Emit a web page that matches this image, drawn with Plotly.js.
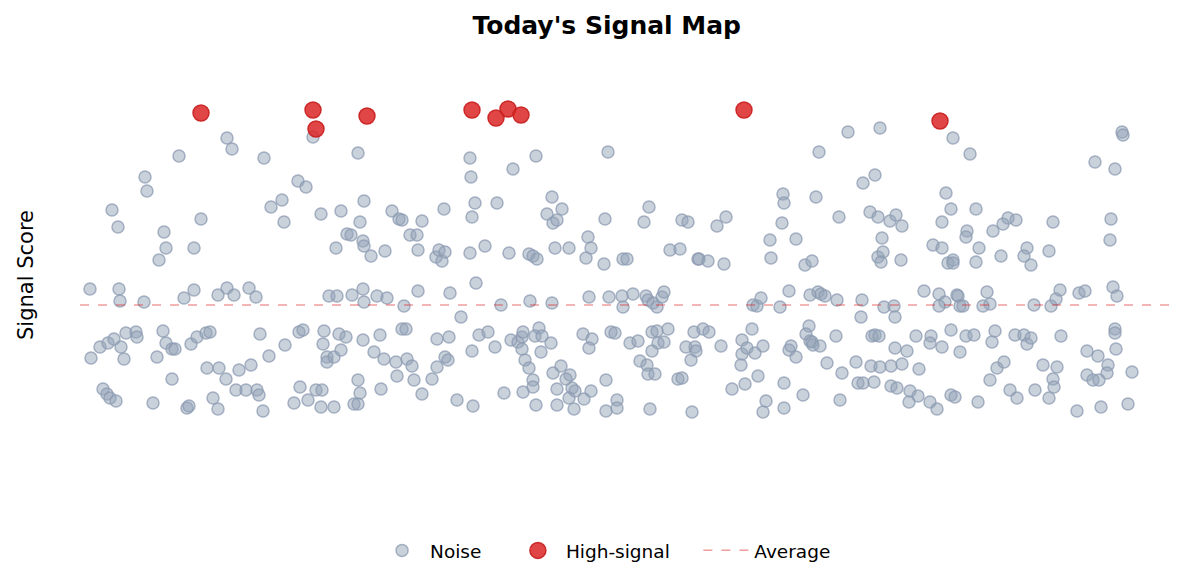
<!DOCTYPE html>
<html>
<head>
<meta charset="utf-8">
<script src="https://cdn.plot.ly/plotly-3.0.1.min.js"></script>
<style>
  html, body { margin: 0; padding: 0; background: #fff; }
  #chart { width: 1185px; height: 584px; }
</style>
</head>
<body>
<div id="chart"></div>
<script>
/* ── Data: position along the day (x) and signal score (y) ── */
const noiseX = [
  23.3,14.7,15.2,9.9,18.4,6.5,6.7,21.8,22.6,3.2,3.8,20.2,19.1,20.4,12.1,24.1,26.1,8.4,8.6,11.4,
  7.9,26.7,27.1,25.6,1.0,3.9,4.0,6.4,10.4,11.4,13.8,14.7,15.4,16.9,17.6,24.9,25.7,27.2,1.1,2.0,
  2.8,3.4,4.1,4.4,4.6,5.6,5.7,8.3,8.6,9.2,9.5,7.7,11.1,11.7,12.6,13.0,18.0,18.9,20.5,21.9,
  22.3,24.4,24.3,25.9,26.6,24.7,24.7,25.4,26.1,12.7,13.9,14.6,15.9,17.1,9.2,2.3,2.7,3.0,3.6,7.3,
  10.7,10.9,13.3,13.8,15.6,16.6,17.7,17.9,18.3,21.4,22.0,22.8,23.6,24.2,24.1,25.4,27.4,
  27.8,39.0,39.1,45.6,43.3,52.8,28.4,28.0,31.2,31.9,32.2,34.2,36.4,39.5,39.2,41.7,47.2,46.7,48.2,47.3,
  47.7,52.5,28.3,28.4,29.1,30.5,33.0,33.7,33.8,35.6,35.9,36.2,36.5,39.0,40.5,42.9,44.9,45.3,45.7,47.5,
  48.9,50.8,51.1,50.6,52.4,28.3,28.4,29.7,30.7,32.4,33.8,37.0,39.6,42.1,45.0,47.2,50.9,52.9,28.3,30.0,
  29.4,30.4,31.6,32.7,33.2,32.2,32.6,31.7,33.4,27.8,28.0,27.8,30.1,34.2,35.2,35.7,35.7,36.9,36.5,36.8,
  38.1,37.7,39.3,39.2,39.9,40.8,41.5,42.4,43.1,43.8,44.2,44.3,44.2,44.5,44.9,45.3,45.3,44.3,45.6,45.9,
  45.5,46.2,46.1,47.1,47.3,48.1,49.0,48.6,49.2,49.5,47.7,48.9,49.4,47.7,50.4,51.1,50.3,51.2,50.9,53.1,
  53.5,52.6,53.7,53.7,52.6,
  76.8,80.0,73.9,78.3,79.5,70.3,70.4,73.6,56.9,56.4,60.2,60.8,64.6,63.7,70.2,75.9,79.0,79.8,81.0,81.6,
  69.0,71.6,80.2,59.0,60.0,61.8,61.9,62.8,64.4,69.1,72.5,73.2,54.3,54.7,79.8,80.3,80.1,54.2,54.3,55.3,
  56.6,56.8,57.3,57.7,58.2,58.4,67.3,67.7,68.1,70.0,70.9,73.0,73.8,74.1,74.5,75.7,78.2,78.1,80.4,81.4,
  81.5,55.0,55.8,57.2,57.7,58.8,57.8,58.4,57.2,56.0,56.7,56.8,57.5,59.8,60.2,57.0,60.6,61.4,62.3,62.9,
  61.5,61.6,61.1,61.2,64.1,66.2,66.2,66.1,66.7,67.5,68.3,67.2,67.8,66.5,65.2,68.6,68.3,70.4,70.4,70.9,
  71.1,71.6,72.3,72.9,72.6,73.0,73.3,73.2,74.0,74.7,75.6,76.2,76.0,77.6,77.8,78.3,79.4,79.2,79.5,79.9,
  79.1,80.0,81.1,81.1,81.7,
  87.3,89.0,104.2,104.3,101.5,103.5,86.6,87.1,89.6,82.2,86.2,88.7,88.6,91.3,92.3,92.8,93.6,97.3,103.1,103.0,
  85.3,86.2,89.9,94.7,94.4,95.1,92.1,96.9,89.6,86.8,87.3,87.3,82.1,84.4,85.9,86.5,85.9,87.7,87.8,88.0,
  88.3,90.7,91.0,90.3,95.4,97.1,97.6,98.0,99.9,100.5,103.3,103.7,83.6,85.1,85.0,86.2,87.1,88.0,88.6,89.4,
  91.2,91.5,93.5,94.4,94.7,95.1,98.1,103.5,103.5,103.6,100.7,101.8,102.8,102.7,100.7,101.3,101.9,105.2,99.7,102.1,
  104.8,81.5,82.7,82.2,83.9,83.0,83.8,82.9,85.0,85.7,87.1,87.5,89.8,91.0,91.7,92.4,93.0,93.7,95.5,96.3,
  97.7,97.3,97.4,96.9
];
const noiseY = [
  72.6,72.4,70.2,68.8,68.4,64.6,61.8,63.8,62.6,58.0,54.6,60.0,58.6,55.6,56.2,57.2,57.8,53.6,50.4,50.4,
  48.0,53.2,53.0,50.4,42.2,42.2,39.8,39.6,40.4,42.0,41.0,42.4,41.0,42.4,40.6,40.8,40.8,41.0,28.4,30.6,
  31.4,32.2,30.6,28.2,33.4,33.6,32.6,33.8,31.4,30.2,30.2,28.6,31.2,32.6,33.4,33.6,33.2,28.8,31.0,33.6,
  34.0,33.8,31.2,33.2,32.6,28.6,27.6,28.6,30.0,26.4,26.4,24.2,26.0,27.0,24.2,22.2,21.2,20.4,19.8,19.4,
  18.4,18.8,20.4,18.2,22.0,22.0,22.0,21.0,17.8,19.4,22.6,20.0,22.0,22.0,18.6,18.6,19.2,
  69.4,68.4,64.6,68.8,66.2,69.6,59.8,55.6,57.8,56.2,56.0,55.8,58.2,59.4,56.6,59.4,60.6,57.2,58.2,55.4,
  56.0,56.2,51.8,50.8,48.8,49.8,53.0,53.0,50.0,48.6,50.0,47.8,49.6,49.4,50.8,49.4,49.2,48.8,48.2,50.4,
  50.4,52.6,50.4,48.4,47.2,42.2,39.6,40.8,40.4,38.8,41.8,41.4,43.4,39.0,39.8,39.4,40.6,40.6,32.0,33.0,
  29.6,28.2,27.6,28.2,26.8,34.2,34.2,24.8,24.0,24.0,21.4,19.2,22.2,21.2,24.2,26.6,32.2,32.6,28.6,28.0,
  36.6,20.0,18.8,29.8,33.0,33.6,30.6,21.4,32.0,31.6,32.6,33.6,30.2,28.0,26.4,24.0,22.6,21.6,19.0,34.4,
  32.8,32.8,29.6,31.4,25.4,26.8,25.0,24.2,22.4,21.8,22.2,20.4,18.2,19.0,20.2,21.8,33.2,32.2,30.4,33.6,
  33.4,24.0,20.0,18.4,17.8,
  73.6,74.4,69.6,63.4,65.0,61.2,59.4,60.6,58.6,55.6,56.0,55.6,56.6,54.8,55.4,56.6,57.6,56.6,55.8,57.0,
  52.0,52.2,52.4,50.0,50.2,48.2,48.2,47.8,47.2,48.4,47.0,47.8,48.2,48.2,48.6,49.6,47.6,40.8,38.6,41.2,
  40.8,40.0,39.4,38.6,40.6,41.6,39.0,38.8,40.4,38.6,41.8,41.0,41.6,41.2,40.8,40.0,40.0,36.6,38.6,38.8,
  36.6,31.4,31.8,33.6,33.8,34.2,31.4,31.6,29.8,27.8,27.0,25.2,25.2,24.2,24.4,18.2,30.6,33.6,34.2,33.6,
  30.6,29.8,28.0,17.6,30.8,32.0,29.2,27.0,30.4,29.4,30.8,34.2,24.8,23.2,22.2,19.8,17.6,23.4,18.4,30.0,
  30.8,28.6,21.0,34.8,33.2,31.8,31.0,31.6,30.8,27.4,32.8,25.4,20.0,27.6,23.4,23.4,23.6,32.8,33.0,32.8,
  26.8,26.6,26.8,22.8,22.4,
  72.4,69.2,73.6,73.0,67.6,66.2,61.4,58.2,58.2,54.8,55.6,53.8,52.6,53.8,55.2,56.4,56.0,55.6,56.2,52.0,
  51.0,50.4,50.4,50.4,48.8,47.0,48.8,49.8,47.6,47.4,48.0,47.4,48.0,41.8,41.2,39.6,38.8,41.0,40.8,38.8,
  38.8,41.6,39.2,38.8,39.0,38.8,40.2,42.0,41.4,41.8,42.6,40.8,32.8,32.8,31.4,30.6,34.0,29.6,32.8,33.0,
  31.6,33.8,33.0,33.0,31.2,32.4,32.8,34.2,33.4,30.2,29.8,28.8,27.0,25.4,25.0,24.0,24.0,25.6,17.8,18.6,
  19.2,30.4,29.8,27.2,26.2,21.8,20.8,19.6,19.6,18.2,21.0,20.6,19.6,24.0,26.4,27.6,22.0,20.4,22.0,27.0,
  26.6,24.2,22.6,20.4
];
const signalX = [12.1, 23.3, 23.6, 28.7, 39.2, 41.6, 42.8, 44.1, 66.4, 86.0];
const signalY = [77.4, 78.0, 74.2, 76.8, 78.0, 76.4, 78.2, 77.0, 78.0, 75.8];
const avgScore = 39.0;
const X_RANGE = [0, 109];
const Y_RANGE = [0, 90];

const FONT = 'DejaVu Sans, Verdana, sans-serif';
const PAD = '\u00A0\u00A0\u00A0\u00A0';   // breathing room between legend entries

const traces = [
  {
    x: noiseX, y: noiseY,
    name: 'Noise' + PAD,
    type: 'scatter', mode: 'markers',
    marker: {
      size: 12, color: 'rgba(148,163,184,0.5)',
      line: { color: 'rgba(140,155,178,0.75)', width: 1.5 }
    },
    hoverinfo: 'skip'
  },
  {
    x: signalX, y: signalY,
    name: 'High-signal' + PAD,
    type: 'scatter', mode: 'markers',
    marker: {
      size: 16, color: 'rgba(220,38,38,0.85)',
      line: { color: 'rgba(200,30,30,0.9)', width: 1.5 }
    },
    hoverinfo: 'skip'
  },
  {
    x: X_RANGE, y: [avgScore, avgScore],
    name: 'Average',
    type: 'scatter', mode: 'lines',
    line: { color: 'rgba(220,38,38,0.45)', width: 1.5, dash: 'dash' },
    hoverinfo: 'skip'
  }
];

const layout = {
  width: 1185, height: 584,
  margin: { l: 80, r: 15, t: 50, b: 84 },
  paper_bgcolor: '#ffffff', plot_bgcolor: '#ffffff',
  font: { family: FONT, color: '#000' },
  title: {
    text: "<b>Today's Signal Map</b>",
    font: { size: 25, family: FONT, color: '#000' },
    x: 0.512, xanchor: 'center', y: 0.957, yanchor: 'middle'
  },
  xaxis: {
    range: X_RANGE, showgrid: false, zeroline: false,
    showticklabels: false, showline: false, ticks: ''
  },
  yaxis: {
    range: Y_RANGE, showgrid: false, zeroline: false,
    showticklabels: false, showline: false, ticks: '',
    title: { text: 'Signal Score', font: { size: 21, family: FONT }, standoff: 39 },
    automargin: false
  },
  showlegend: true,
  legend: {
    orientation: 'h', x: 0.4817, xanchor: 'center',
    y: -0.113, yanchor: 'middle',
    itemwidth: 46,
    font: { size: 18.5, family: FONT }
  }
};

Plotly.newPlot('chart', traces, layout, { displayModeBar: false, staticPlot: true });
</script>
</body>
</html>
